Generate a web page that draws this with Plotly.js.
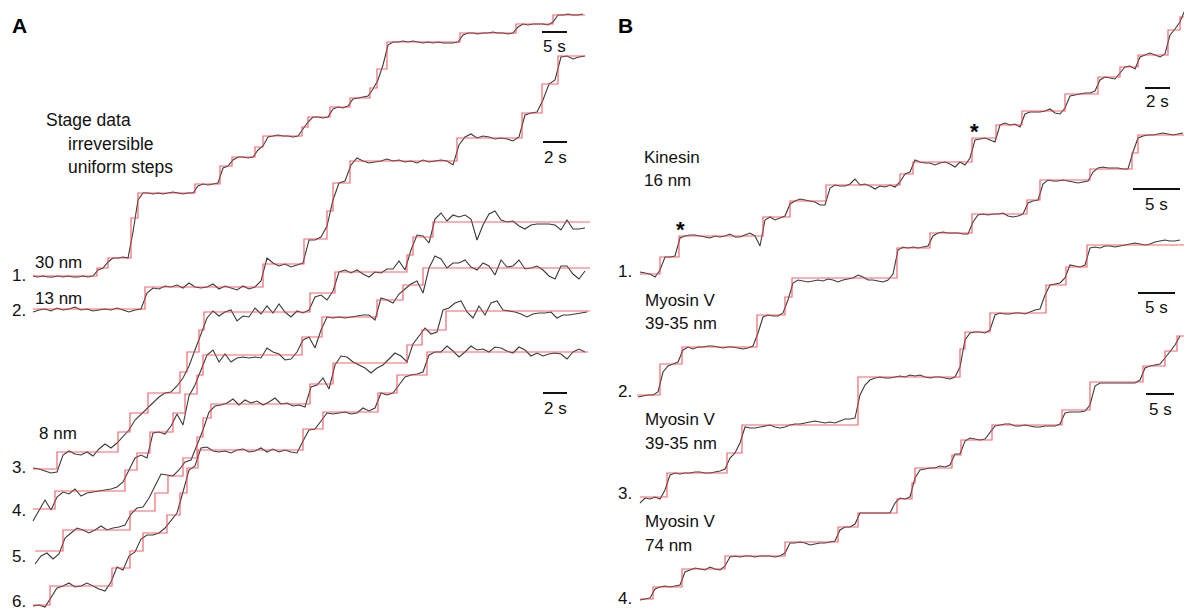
<!DOCTYPE html>
<html>
<head>
<meta charset="utf-8">
<script src="https://cdn.plot.ly/plotly-3.0.1.min.js"></script>
<style>html,body{margin:0;padding:0;background:#fff;}#chart{width:1184px;height:613px;}</style>
</head>
<body>
<div id="chart"></div>
<script>
// ---------- DATA (plot units: x = time axis, y = displacement axis, y drawn downward) ----------
// Panel A, stepping fits (breakpoints and levels)
const a1StepX = [33,97,108,131,138,195,220,232,255,263,302,308,330,350,370,377,387,460,516,553,585];
const a1StepY = [276,268,258,218,193,184,166,157,147,136,127,117,107,98,88,69,42,33,24,15,15];
const a2StepX = [33,145,263,304,327,333,350,457,522,542,558,585];
const a2StepY = [309,287,264,239,211,183,161,138,113,84,56,56];
const a3StepX = [33,57,118,130,148,180,187,199,204,310,335,407,413,433,590];
const a3StepY = [469,452,432,413,393,372,352,330,312,293,272,255,237,222,222];
const a4StepX = [33,55,125,137,150,173,185,197,203,302,322,377,403,423,590];
const a4StepY = [509,491,470,453,432,413,394,375,355,337,317,300,285,268,268];
const a5StepX = [35,63,130,155,168,183,197,203,211,310,333,407,422,446,590];
const a5StepY = [551,530,511,493,476,458,437,418,404,384,363,345,330,311,311];
const a6StepX = [33,50,112,130,143,167,180,187,198,303,323,378,397,427,588];
const a6StepY = [605,586,568,551,533,515,493,468,450,429,412,393,375,352,352];

// Panel B, stepping fits
const b1StepX = [640,660,679,763,790,826,900,913,972,996,1022,1065,1098,1120,1138,1168,1180,1184];
const b1StepY = [274,257,236,217,201,185,174,162,138,125,111,94,77,67,55,30,17,17];
const b2StepX = [637,660,682,757,785,792,897,930,972,1027,1040,1090,1132,1138,1184];
const b2StepY = [395,364,347,315,297,278,248,233,214,200,180,169,153,135,135];
const b3StepX = [640,667,727,742,858,960,965,990,1046,1066,1087,1184];
const b3StepY = [497,473,453,425,377,349,332,313,285,267,245,245];
const b4StepX = [640,653,682,725,785,838,858,897,912,915,952,961,992,1062,1090,1143,1165,1177,1184];
const b4StepY = [599,587,569,556,542,527,513,499,483,468,455,440,425,410,382,366,351,336,336];

// Raw recordings, uniformly sampled (start time, sample interval, values)
const a1Start = 33, a1Dt = 5;
const a1Data = [276,277,276,277,277,276,277,276,277,277,276,277,276,270,268,262,258,258,257,258,
232,200,193,193,194,193,194,193,192,193,194,193,193,186,184,185,184,183,168,166,
160,157,157,158,157,150,146,137,136,135,136,136,137,136,129,122,117,117,118,117,
109,107,108,106,99,98,97,96,89,80,65,45,42,42,41,42,41,42,43,42,
43,42,43,43,43,42,35,33,33,34,33,33,32,33,33,34,33,27,24,25,
24,24,24,25,22,15,15,14,15,15,14];
const a2Start = 33, a2Dt = 6;
const a2Data = [312,310,309,311,308,310,309,307,310,309,311,310,309,310,308,310,312,310,309,293,
288,289,286,287,285,288,283,287,288,287,284,289,286,288,290,286,289,287,281,258,
263,266,264,267,265,263,240,240,237,226,200,183,181,165,158,161,163,162,161,159,
161,160,162,161,163,160,162,161,160,161,165,145,137,134,138,136,137,139,138,139,
141,137,115,113,112,100,84,80,57,56,59,57,56];
const a3Start = 33, a3Dt = 6;
const a3Data = [468,469,471,473,472,455,451,454,455,452,456,449,444,448,443,436,430,420,414,408,
402,397,393,392,386,378,366,350,335,318,311,316,312,310,321,316,317,308,314,306,
313,304,312,317,311,313,310,297,295,300,291,272,270,273,270,274,277,272,273,269,
269,261,270,250,235,236,243,219,213,221,215,217,215,219,240,225,214,211,220,222,
221,226,229,225,224,224,224,225,230,220,229,229,228];
const a4Start = 33, a4Dt = 6;
const a4Data = [521,510,500,510,497,492,494,489,496,493,492,491,490,489,487,482,470,458,455,458,
433,432,434,426,414,425,396,385,370,355,350,362,354,362,358,357,358,357,358,348,
352,354,360,359,352,340,337,348,330,317,318,317,318,317,316,315,315,320,298,300,
303,294,289,284,281,293,268,256,259,268,263,263,260,267,270,263,266,275,260,267,
266,260,269,268,266,270,276,279,266,266,274,279,271];
const a5Start = 35, a5Dt = 6;
const a5Data = [564,556,553,559,554,538,533,528,530,533,530,526,530,528,527,525,514,508,507,498,
486,474,475,476,470,462,460,445,430,412,406,405,403,399,405,400,403,401,405,402,
398,404,403,406,405,407,387,385,378,389,365,356,357,362,365,368,373,368,365,359,
353,356,362,344,336,328,334,332,310,308,303,301,312,318,306,315,303,301,310,311,
312,314,317,314,313,313,312,318,315,315,314,313,312];
const a6Start = 33, a6Dt = 6;
const a6Data = [606,605,607,597,588,586,583,587,586,583,586,589,591,582,567,570,556,552,539,535,
535,533,528,520,513,492,470,466,448,447,451,452,451,453,450,449,452,451,448,452,
449,452,450,452,453,441,430,429,421,413,414,413,412,414,413,408,411,408,393,395,
393,385,377,375,374,372,355,352,352,346,351,357,352,346,350,349,352,347,348,351,
353,347,350,356,353,356,354,353,354,359,352,349,352];

const b1Start = 640, b1Dt = 5;
const b1Data = [272,273,274,277,270,257,257,256,238,236,235,235,236,237,238,236,237,236,234,237,
237,235,233,236,246,220,217,220,218,216,204,201,199,200,201,202,205,205,188,185,
186,186,184,179,185,184,186,189,186,187,185,187,182,174,172,160,162,163,163,165,
163,162,164,167,162,165,158,140,139,138,140,142,125,123,125,124,127,114,112,112,
112,111,109,113,114,108,96,95,94,93,93,91,80,77,78,79,73,67,66,69,
57,55,53,55,57,54,35,29,22,10];
const b2Start = 638, b2Dt = 5;
const b2Data = [397,396,395,395,392,372,366,364,362,350,347,349,347,347,346,346,347,348,347,347,
348,349,348,346,333,317,315,316,316,313,300,283,280,281,282,281,280,281,279,280,
282,280,279,278,275,277,280,280,281,282,280,274,250,247,248,247,248,247,246,236,
233,232,233,233,233,234,234,222,215,214,215,214,214,213,216,217,216,214,203,201,
200,184,180,181,181,180,181,182,183,182,181,172,168,167,168,168,168,169,169,152,
138,136,135,135,134,133,134,135,134,133];
const b3Start = 640, b3Dt = 5;
const b3Data = [503,498,499,497,499,490,475,473,474,473,473,472,472,473,473,472,471,469,458,453,
443,427,428,428,427,426,425,427,428,427,425,424,424,423,422,421,422,423,422,423,
421,419,419,418,395,385,380,378,377,378,378,377,376,377,375,376,375,377,378,377,
377,378,379,377,367,340,333,332,332,333,330,315,313,314,314,313,313,314,312,310,
309,295,285,284,283,278,265,266,267,265,248,247,248,246,246,247,246,245,244,243,
244,245,244,242,241,240,241,241,240];
const b4Start = 640, b4Dt = 5;
const b4Data = [600,599,598,589,587,586,587,586,585,572,570,568,569,570,567,569,570,566,557,556,
557,556,556,557,556,556,556,557,556,553,543,543,542,543,545,544,543,543,542,541,
530,527,527,524,513,513,513,513,513,513,513,503,498,499,497,478,470,469,468,468,
466,467,465,454,454,441,438,439,440,439,433,426,425,424,424,426,426,425,426,427,
427,426,426,426,424,413,412,412,412,411,405,386,383,383,383,383,383,383,383,383,
380,368,366,365,364,358,351,345,336];

// Scale bar labels
const scaleLabels = ['5 s','2 s','2 s','2 s','5 s','5 s','5 s'];

// ---------- BUILD ----------
const series = [
  [a1StepX,a1StepY,a1Start,a1Dt,a1Data],
  [a2StepX,a2StepY,a2Start,a2Dt,a2Data],
  [a3StepX,a3StepY,a3Start,a3Dt,a3Data],
  [a4StepX,a4StepY,a4Start,a4Dt,a4Data],
  [a5StepX,a5StepY,a5Start,a5Dt,a5Data],
  [a6StepX,a6StepY,a6Start,a6Dt,a6Data],
  [b1StepX,b1StepY,b1Start,b1Dt,b1Data],
  [b2StepX,b2StepY,b2Start,b2Dt,b2Data],
  [b3StepX,b3StepY,b3Start,b3Dt,b3Data],
  [b4StepX,b4StepY,b4Start,b4Dt,b4Data]
];

const traces = [];
series.forEach(s => {
  const [sx, sy, t0, dt, vals] = s;
  traces.push({
    x: vals.map((v,i) => t0 + i*dt), y: vals,
    type: 'scatter', mode: 'lines', hoverinfo: 'skip',
    line: {color: '#3a3a3a', width: 1.1}
  });
  traces.push({
    x: sx, y: sy, type: 'scatter', mode: 'lines', hoverinfo: 'skip',
    line: {color: 'rgba(236,64,76,0.8)', width: 1.2, shape: 'hv'}
  });
});

// layout placement
const barPos = [
  [542,567,32,46],[543,567,142,157],[543,567,393,408],
  [1145,1170,88,101],[1133,1180,189,204],[1138,1175,293,307],[1146,1174,394,409]
];
const shapes = barPos.map(b => ({type:'line', xref:'x', yref:'y', x0:b[0], x1:b[1], y0:b[2], y1:b[2],
  line:{color:'#111', width:2}}));

const FONT = 'Liberation Sans, Arial, Helvetica, sans-serif';
const ann = [];
function txt(t, x, y, opts) {
  ann.push(Object.assign({text:t, x:x, y:y, xref:'x', yref:'y', showarrow:false,
    xanchor:'left', yanchor:'middle', font:{family:FONT, size:17, color:'#111'}}, opts||{}));
}
barPos.forEach((b,i) => txt(scaleLabels[i], (b[0]+b[1])/2, b[3], {xanchor:'center'}));

txt('<b>A</b>', 10, 25, {font:{family:FONT, size:21, color:'#000'}});
txt('<b>B</b>', 616, 25, {font:{family:FONT, size:21, color:'#000'}});
txt('Stage data', 44, 120, {font:{family:FONT, size:17.5, color:'#111'}});
txt('irreversible', 66, 144, {font:{family:FONT, size:17.5, color:'#111'}});
txt('uniform steps', 66, 167, {font:{family:FONT, size:17.5, color:'#111'}});
txt('30 nm', 33, 262);
txt('13 nm', 33, 298);
txt('8 nm', 37, 433);
txt('1.', 10, 275); txt('2.', 10, 310); txt('3.', 10, 467);
txt('4.', 10, 510); txt('5.', 10, 556); txt('6.', 10, 601);
txt('Kinesin', 642, 157);
txt('16 nm', 642, 180);
txt('Myosin V', 643, 300);
txt('39-35 nm', 643, 323);
txt('Myosin V', 643, 419);
txt('39-35 nm', 643, 443);
txt('Myosin V', 643, 521);
txt('74 nm', 643, 545);
txt('1.', 616, 271); txt('2.', 616, 391); txt('3.', 616, 493); txt('4.', 616, 598);
txt('<b>*</b>', 680, 229, {xanchor:'center', font:{family:FONT, size:22, color:'#000'}});
txt('<b>*</b>', 974, 131, {xanchor:'center', font:{family:FONT, size:22, color:'#000'}});

const layout = {
  width: 1184, height: 613,
  margin: {l:0, r:0, t:0, b:0},
  paper_bgcolor: '#fff', plot_bgcolor: '#fff',
  showlegend: false,
  xaxis: {range:[0,1184], visible:false, fixedrange:true},
  yaxis: {range:[613,0], visible:false, fixedrange:true},
  shapes: shapes,
  annotations: ann
};
Plotly.newPlot('chart', traces, layout, {displayModeBar:false, staticPlot:true});
</script>
</body>
</html>
